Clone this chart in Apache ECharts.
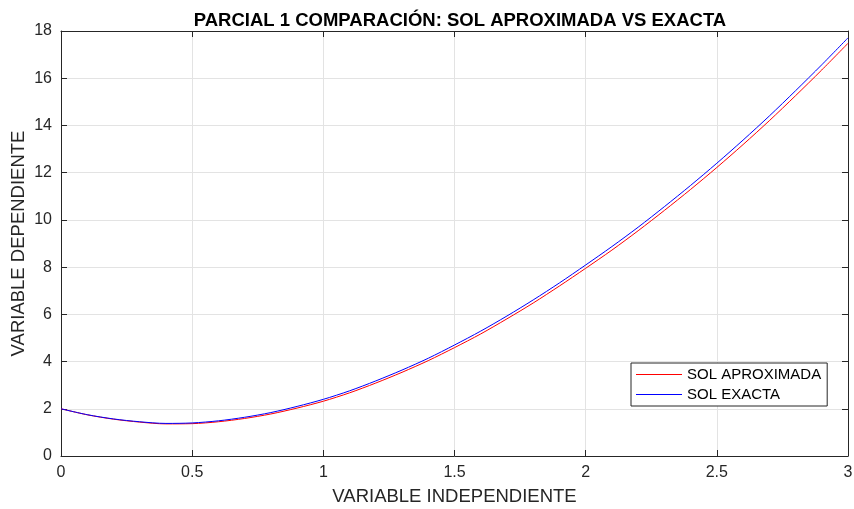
<!DOCTYPE html>
<html>
<head>
<meta charset="utf-8">
<script src="https://cdn.jsdelivr.net/npm/echarts@6/dist/echarts.min.js"></script>
<style>html,body{margin:0;padding:0;background:#fff;}#c{width:854px;height:509px;}</style>
</head>
<body>
<div id="c"></div>
<script>
const titleText = 'PARCIAL 1 COMPARACIÓN: SOL APROXIMADA VS EXACTA';
const xLabel = 'VARIABLE INDEPENDIENTE';
const yLabel = 'VARIABLE DEPENDIENTE';
const seriesNames = ['SOL APROXIMADA', 'SOL EXACTA'];
const xValues = [0,0.1,0.2,0.3,0.4,0.5,0.6,0.7,0.8,0.9,1.0,1.1,1.2,1.3,1.4,1.5,1.6,1.7,1.8,1.9,2.0,2.1,2.2,2.3,2.4,2.5,2.6,2.7,2.8,2.9,3.0];
const approxValues = [2.00,1.745,1.56,1.435,1.36,1.37,1.45,1.59,1.78,2.03,2.32,2.675,3.09,3.545,4.04,4.59,5.17,5.81,6.48,7.20,7.95,8.72,9.54,10.40,11.29,12.22,13.19,14.20,15.26,16.35,17.48];
const exactValues = [2.00,1.75,1.57,1.45,1.38,1.40,1.49,1.64,1.84,2.10,2.40,2.76,3.18,3.64,4.14,4.70,5.29,5.93,6.61,7.33,8.09,8.87,9.69,10.56,11.46,12.40,13.38,14.40,15.47,16.57,17.71];

const FONT = '"Liberation Sans", Arial, Helvetica, sans-serif';
const AX = '#262626';
const chart = echarts.init(document.getElementById('c'), null, {renderer: 'canvas'});

const baseAxis = {
  axisLine: {show: true, onZero: false, lineStyle: {color: AX, width: 1}},
  axisTick: {show: true, inside: true, length: 6, lineStyle: {color: AX, width: 1}},
  splitLine: {show: false},
  axisLabel: {show: false}
};

chart.setOption({
  animation: false,
  backgroundColor: '#ffffff',
  title: {
    text: titleText,
    left: 455, top: 6, textAlign: 'center',
    textStyle: {fontFamily: FONT, fontSize: 18.5, fontWeight: 'bold', color: '#000'}
  },
  grid: {left: 61, right: 6, top: 31, bottom: 53, containLabel: false, outerBoundsMode: 'none'},
  legend: {
    data: seriesNames,
    orient: 'vertical',
    left: 631, top: 363,
    padding: [4, 6, 4, 5],
    itemGap: 5,
    itemWidth: 46, itemHeight: 1,
    icon: 'rect',
    backgroundColor: '#fff',
    borderColor: AX, borderWidth: 1,
    textStyle: {fontFamily: FONT, fontSize: 15, color: '#000'}
  },
  xAxis: [
    Object.assign({}, baseAxis, {
      type: 'value', min: 0, max: 3, interval: 0.5, position: 'bottom',
      name: xLabel, nameLocation: 'middle', nameGap: 31, nameMoveOverlap: false,
      nameTextStyle: {fontFamily: FONT, fontSize: 18.5, color: AX},
      splitLine: {show: true, lineStyle: {color: '#e3e3e3', width: 1}},
      axisLabel: {show: true, fontFamily: FONT, fontSize: 16, color: AX, margin: 9}
    }),
    Object.assign({}, baseAxis, {type: 'value', min: 0, max: 3, interval: 0.5, position: 'top'})
  ],
  yAxis: [
    Object.assign({}, baseAxis, {
      type: 'value', min: 0, max: 18, interval: 2, position: 'left',
      name: yLabel, nameLocation: 'middle', nameGap: 33, nameMoveOverlap: false,
      nameTextStyle: {fontFamily: FONT, fontSize: 18.5, color: AX},
      splitLine: {show: true, lineStyle: {color: '#e3e3e3', width: 1}},
      axisLabel: {show: true, fontFamily: FONT, fontSize: 16, color: AX, margin: 9}
    }),
    Object.assign({}, baseAxis, {type: 'value', min: 0, max: 18, interval: 2, position: 'right'})
  ],
  series: [
    {
      name: seriesNames[0], type: 'line', xAxisIndex: 0, yAxisIndex: 0,
      data: xValues.map((x, i) => [x, approxValues[i]]),
      showSymbol: false, smooth: 0.3,
      lineStyle: {color: '#ff0000', width: 1}, itemStyle: {color: '#ff0000'}
    },
    {
      name: seriesNames[1], type: 'line', xAxisIndex: 0, yAxisIndex: 0,
      data: xValues.map((x, i) => [x, exactValues[i]]),
      showSymbol: false, smooth: 0.3,
      lineStyle: {color: '#0000ff', width: 1}, itemStyle: {color: '#0000ff'}
    }
  ]
});
</script>
</body>
</html>
